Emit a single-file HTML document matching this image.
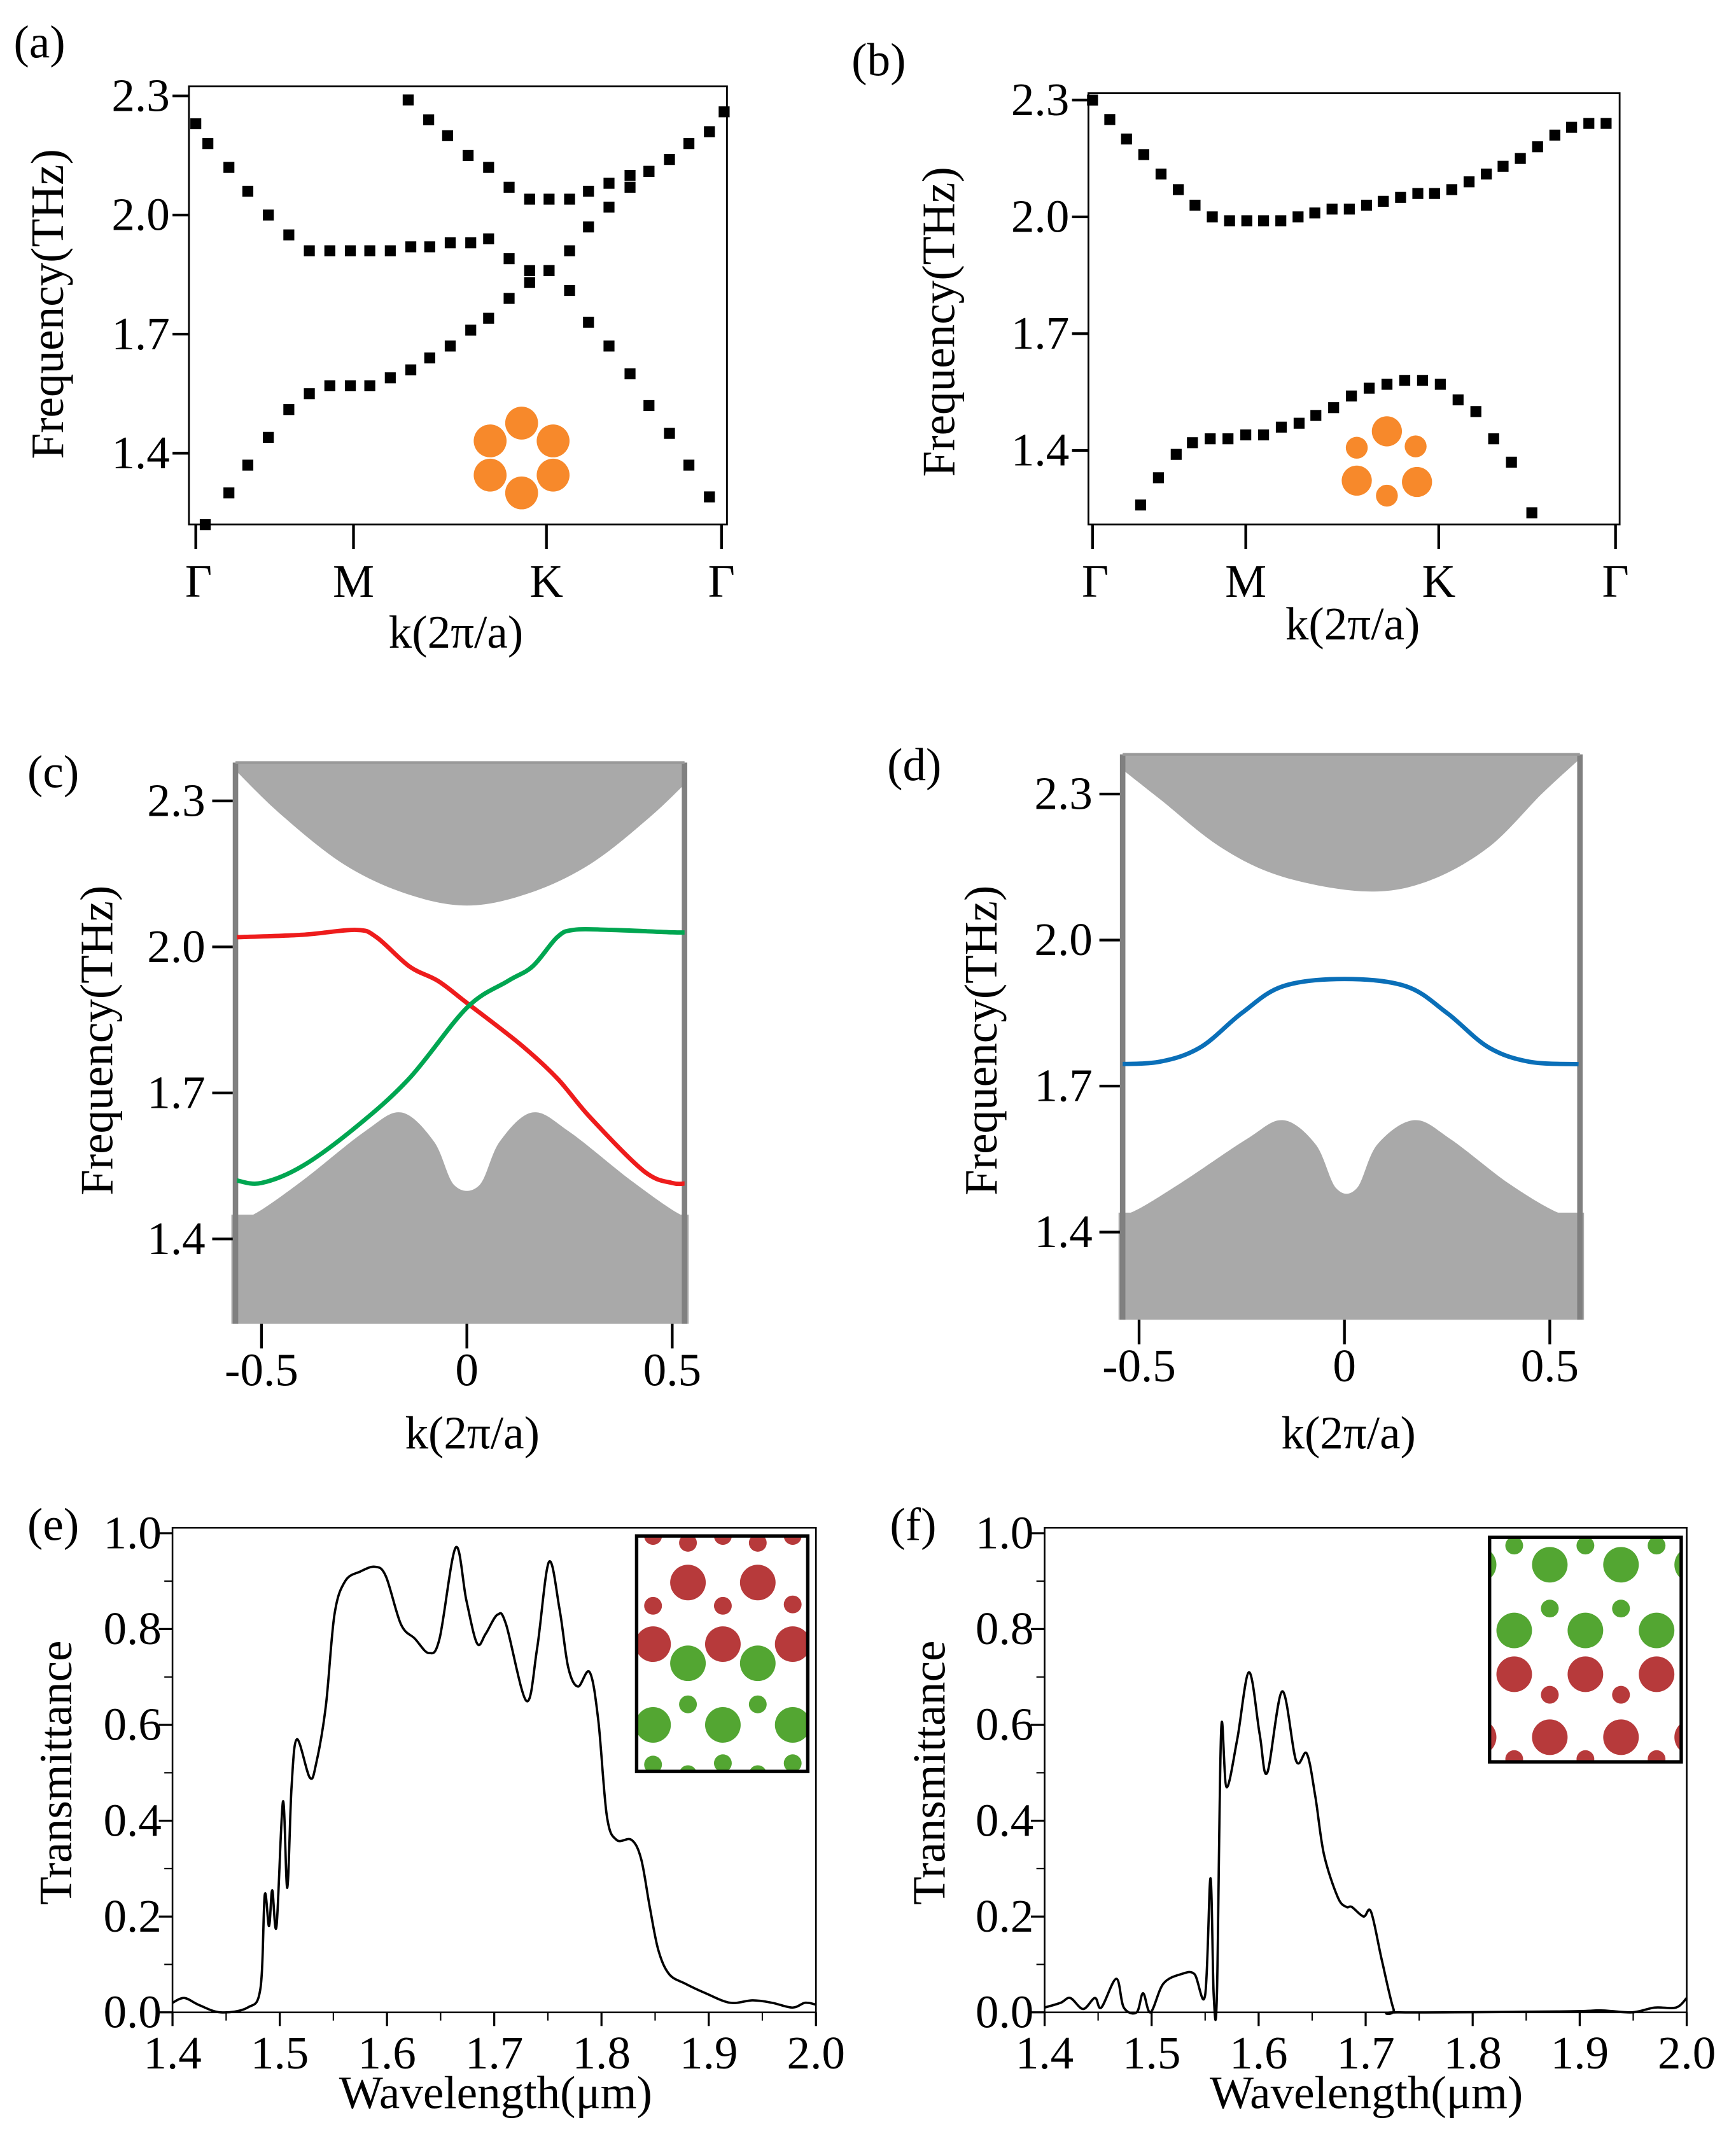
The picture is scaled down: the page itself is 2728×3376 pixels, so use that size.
<!DOCTYPE html>
<html><head><meta charset="utf-8"><style>
html,body{margin:0;padding:0;background:#fff}
svg{display:block}
text{font-family:"Liberation Serif",serif;fill:#000}
</style></head><body>
<svg id="fig" xmlns="http://www.w3.org/2000/svg" width="2728" height="3376" viewBox="0 0 1268 1569"></svg>
<script>
// ---------- data ----------
const aBandAk=[0.018,0.063,0.099,0.138,0.177,0.216,0.255,0.294,0.331,0.370,0.409,0.445,0.484,0.523,0.557,0.596,0.635,0.672,0.711,0.747,0.786,0.826,0.862,0.901,0.938,0.977];
const aBandAf=[1.22,1.30,1.37,1.44,1.51,1.55,1.57,1.57,1.57,1.59,1.61,1.64,1.67,1.71,1.74,1.79,1.83,1.86,1.81,1.73,1.67,1.60,1.52,1.45,1.37,1.29];
const aBandBk=[0.0,0.023,0.063,0.099,0.138,0.177,0.216,0.255,0.294,0.331,0.370,0.409,0.445,0.484,0.523,0.557,0.596,0.635,0.672,0.711,0.747,0.786,0.826,0.862,0.901,0.938,0.977,1.005];
const aBandBf=[2.23,2.18,2.12,2.06,2.00,1.95,1.91,1.91,1.91,1.91,1.91,1.92,1.92,1.93,1.93,1.94,1.89,1.86,1.86,1.91,1.97,2.02,2.07,2.11,2.14,2.18,2.21,2.26];
const aBandCk=[0.404,0.443,0.479,0.518,0.557,0.596,0.635,0.672,0.711,0.747,0.786,0.826,0.862];
const aBandCf=[2.29,2.24,2.20,2.15,2.12,2.07,2.04,2.04,2.04,2.06,2.08,2.10,2.11];
const aTicksK=[0,0.30,0.667,1];
const symLabels=["Γ","M","K","Γ"];
const freqTicks=[2.3,2.0,1.7,1.4];
const bUpperK=[0,0.033,0.065,0.098,0.131,0.164,0.196,0.229,0.262,0.295,0.327,0.360,0.393,0.425,0.458,0.491,0.524,0.556,0.589,0.622,0.654,0.687,0.720,0.753,0.785,0.818,0.851,0.884,0.916,0.949,0.982];
const bUpperF=[2.30,2.25,2.20,2.16,2.11,2.07,2.03,2.00,1.99,1.99,1.99,1.99,2.00,2.01,2.02,2.02,2.03,2.04,2.05,2.06,2.06,2.07,2.09,2.11,2.13,2.15,2.18,2.21,2.23,2.24,2.24];
const bLowerK=[0.092,0.126,0.160,0.191,0.225,0.259,0.293,0.327,0.361,0.395,0.427,0.461,0.495,0.529,0.563,0.597,0.631,0.665,0.699,0.733,0.767,0.801,0.840];
const bLowerF=[1.26,1.33,1.39,1.42,1.43,1.43,1.44,1.44,1.46,1.47,1.49,1.51,1.54,1.56,1.57,1.58,1.58,1.57,1.53,1.50,1.43,1.37,1.24];
const bTicksK=[0,0.293,0.662,1];
const cUpperK=[-0.56,-0.45,-0.3,-0.15,0,0.15,0.3,0.45,0.56];
const cUpperF=[2.36,2.27,2.17,2.11,2.085,2.11,2.17,2.27,2.36];
const cLowerK=[-0.56,-0.52,-0.4,-0.25,-0.16,-0.08,-0.03,0.03,0.08,0.16,0.25,0.4,0.52,0.56];
const cLowerF=[1.45,1.45,1.52,1.62,1.66,1.60,1.51,1.51,1.60,1.66,1.62,1.52,1.45,1.45];
const cRedK=[-0.56,-0.4,-0.27,-0.22,-0.14,-0.07,0,0.13,0.22,0.30,0.43,0.5,0.54];
const cRedF=[2.02,2.025,2.035,2.02,1.96,1.93,1.885,1.80,1.73,1.65,1.54,1.515,1.515];
const cGreenK=[-0.56,-0.5,-0.4,-0.27,-0.14,0,0.1,0.16,0.22,0.26,0.35,0.5,0.54];
const cGreenF=[1.52,1.515,1.55,1.63,1.73,1.875,1.93,1.96,2.02,2.035,2.035,2.03,2.03];
const dUpperK=[-0.57,-0.45,-0.3,-0.15,0.05,0.2,0.35,0.48,0.57];
const dUpperF=[2.37,2.29,2.19,2.13,2.10,2.12,2.19,2.30,2.37];
const dLowerK=[-0.57,-0.52,-0.4,-0.24,-0.15,-0.07,-0.02,0.03,0.08,0.17,0.26,0.4,0.52,0.57];
const dLowerF=[1.44,1.44,1.50,1.59,1.63,1.58,1.49,1.49,1.58,1.63,1.59,1.50,1.44,1.44];
const dBlueK=[-0.57,-0.45,-0.35,-0.25,-0.15,0,0.15,0.25,0.35,0.45,0.57];
const dBlueF=[1.745,1.75,1.78,1.85,1.905,1.92,1.905,1.85,1.78,1.75,1.745];
const kTicks=[-0.5,0,0.5];
const kTickLabels=["-0.5","0","0.5"];
const eLam=[1.40,1.411,1.425,1.445,1.47,1.482,1.486,1.49,1.493,1.497,1.503,1.507,1.511,1.516,1.528,1.534,1.543,1.551,1.561,1.575,1.589,1.599,1.613,1.626,1.639,1.649,1.664,1.674,1.684,1.692,1.703,1.711,1.730,1.740,1.751,1.761,1.769,1.778,1.789,1.797,1.805,1.814,1.828,1.837,1.845,1.853,1.863,1.878,1.897,1.92,1.941,1.959,1.978,1.99,2.0];
const eT=[0.02,0.03,0.015,0.0,0.01,0.05,0.245,0.18,0.255,0.18,0.44,0.26,0.47,0.57,0.49,0.52,0.64,0.83,0.90,0.92,0.93,0.91,0.81,0.78,0.75,0.78,0.97,0.86,0.77,0.79,0.83,0.81,0.65,0.76,0.94,0.84,0.72,0.68,0.71,0.61,0.41,0.36,0.36,0.32,0.22,0.13,0.08,0.06,0.04,0.02,0.025,0.02,0.01,0.02,0.016];
const fLam=[1.40,1.415,1.424,1.436,1.447,1.453,1.467,1.474,1.486,1.492,1.499,1.511,1.528,1.54,1.55,1.555,1.558,1.561,1.565,1.57,1.58,1.591,1.601,1.608,1.622,1.635,1.645,1.653,1.661,1.674,1.682,1.687,1.698,1.705,1.715,1.726,1.732,1.886,1.92,1.949,1.97,1.99,2.0];
const fT=[0.01,0.02,0.03,0.007,0.03,0.01,0.07,0.01,0.0,0.04,0.0,0.06,0.08,0.08,0.036,0.28,0.036,0.036,0.59,0.47,0.57,0.71,0.58,0.50,0.67,0.525,0.54,0.45,0.33,0.24,0.22,0.22,0.20,0.21,0.11,0.007,0.0,0.002,0.004,0.0,0.01,0.01,0.03];
const lamTicks=[1.4,1.5,1.6,1.7,1.8,1.9,2.0];
const lamLabels=["1.4","1.5","1.6","1.7","1.8","1.9","2.0"];
const tTicks=[0,0.2,0.4,0.6,0.8,1.0];
const tLabels=["0.0","0.2","0.4","0.6","0.8","1.0"];

// ---------- helpers ----------
const NS="http://www.w3.org/2000/svg";
const svg=document.getElementById('fig');
const FS=34;
function el(tag,attrs,parent,txt){const e=document.createElementNS(NS,tag);for(const k in attrs)e.setAttribute(k,attrs[k]);if(txt!==undefined)e.textContent=txt;(parent||svg).appendChild(e);return e;}
function grp(name){const g=el('g',{});


return g;}
function lin(d0,d1,p0,p1){return v=>p0+(v-d0)*(p1-p0)/(d1-d0);}
function smooth(pts){let d=`M${pts[0][0]},${pts[0][1]}`;for(let i=0;i<pts.length-1;i++){const p0=pts[Math.max(0,i-1)],p1=pts[i],p2=pts[i+1],p3=pts[Math.min(pts.length-1,i+2)];
const c1=[p1[0]+(p2[0]-p0[0])/6,p1[1]+(p2[1]-p0[1])/6],c2=[p2[0]-(p3[0]-p1[0])/6,p2[1]-(p3[1]-p1[1])/6];d+=`C${c1[0]},${c1[1]} ${c2[0]},${c2[1]} ${p2[0]},${p2[1]}`;}return d;}
function text(g,x,y,s,size,anchor,name,rot){const t=el('text',{x:x,y:y,'font-size':size,'text-anchor':anchor||'middle'},g,s);if(rot)t.setAttribute('transform',`rotate(-90 ${x} ${y})`);


return t;}

// ---------- (a),(b) ----------
function bandPanel(id,box,yTopPx,yBotPx,ticksK,bands,label,labelPos,ylabPos,xlabPos,inset){
  const g=grp('panel-'+id);
  const X=lin(0,1,box.tx0,box.tx1), Y=lin(2.3,1.4,yTopPx,yBotPx);
  el('rect',{x:box.x0,y:box.y0,width:box.x1-box.x0,height:box.y1-box.y0,fill:'none',stroke:'#000','stroke-width':1.3},g);
  freqTicks.forEach(f=>{el('line',{x1:box.x0-12,x2:box.x0,y1:Y(f),y2:Y(f),stroke:'#000','stroke-width':2},g);
    text(g,box.x0-14,Y(f)+11,f.toFixed(1),FS,'end','y-tick-label');});
  ticksK.forEach((k,i)=>{el('line',{x1:X(k),x2:X(k),y1:box.y1,y2:box.y1+18,stroke:'#000','stroke-width':2},g);
    text(g,X(k)+(i==0?2:0),box.y1+53,symLabels[i],FS,'middle','x-tick-label');});
  const cg=el('g',{},g);
  inset.forEach(c=>{const ci=el('circle',{cx:c[0],cy:c[1],r:c[2],fill:'#f7892b'},cg);
    
    });
  bands.forEach(b=>{b[0].forEach((k,i)=>{const r=el('rect',{x:X(k)-4,y:Y(b[1][i])-4,width:8,height:8,fill:'#000'},g);
    
    });});
  text(g,labelPos[0],labelPos[1],label,FS,'start','panel-label');
  text(g,ylabPos[0],ylabPos[1],'Frequency(THz)',FS,'middle','y-axis-title',true);
  text(g,xlabPos[0],xlabPos[1],'k(2π/a)',FS,'middle','x-axis-title');
}
bandPanel('a',{x0:138,x1:531,y0:63,y1:383,tx0:143,tx1:527},70,331,aTicksK,[[aBandAk,aBandAf],[aBandBk,aBandBf],[aBandCk,aBandCf]],'(a)',[10,42],[46,222],[333,473],
  [[381,309,12],[404,322,12],[404,347,12],[381,360,12],[358,347,12],[358,322,12]]);
bandPanel('b',{x0:795,x1:1183,y0:68,y1:383,tx0:798,tx1:1180},73,329,bTicksK,[[bUpperK,bUpperF],[bLowerK,bLowerF]],'(b)',[622,55],[697,235],[988,467],
  [[1013,315,11],[1034,326,8],[991,327,8],[991,351,11],[1035,352,11],[1013,362,8]]);

// ---------- (c),(d) ----------
function projPanel(id,box,yTop,yBot,xZero,xScale,up,low,lines,label,labelPos,ylabPos,xlabPos){
  const g=grp('panel-'+id);
  const X=k=>xZero+k*xScale, Y=lin(2.3,1.4,yTop,yBot);
  const cid='clipbox'+id;
  const cp=el('clipPath',{id:cid},g);el('rect',{x:box.x0,y:box.y0,width:box.x1-box.x0,height:box.y1-box.y0},cp);
  const inner=el('g',{'clip-path':`url(#${cid})`},g);
  const upPts=up[0].map((k,i)=>[X(k),Y(up[1][i])]);
  const ua=el('path',{d:smooth(upPts)+`L${X(up[0][up[0].length-1])},${box.y0}L${X(up[0][0])},${box.y0}Z`,fill:'#a9a9a9'},inner);
  
  
  const lowPts=low[0].map((k,i)=>[X(k),Y(low[1][i])]);
  const la=el('path',{d:smooth(lowPts)+`L${X(low[0][low[0].length-1])},${box.y1}L${X(low[0][0])},${box.y1}Z`,fill:'#a9a9a9'},inner);
  
  
  el('rect',{x:box.x0-3,y:Y(low[1][0]),width:box.x1-box.x0+6,height:box.y1-Y(low[1][0]),fill:'#a9a9a9'},g);
  el('line',{x1:box.x0,x2:box.x0,y1:box.y0,y2:box.y1,stroke:'#808080','stroke-width':4},g);
  el('line',{x1:box.x1,x2:box.x1,y1:box.y0,y2:box.y1,stroke:'#808080','stroke-width':4},g);
  el('line',{x1:box.x0,x2:box.x1,y1:box.y0,y2:box.y0,stroke:'#999','stroke-width':2},g);
  const lg=el('g',{'clip-path':`url(#${cid})`},g);
  lines.forEach(L=>{const p=el('path',{d:smooth(L[0].map((k,i)=>[X(k),Y(L[1][i])])),fill:'none',stroke:L[2],'stroke-width':3.2},lg);
    
    });
  freqTicks.forEach(f=>{el('line',{x1:box.x0-17,x2:box.x0-2,y1:Y(f),y2:Y(f),stroke:'#000','stroke-width':2},g);
    text(g,box.x0-22,Y(f)+11,f.toFixed(1),FS,'end','y-tick-label');});
  kTicks.forEach((k,i)=>{el('line',{x1:X(k),x2:X(k),y1:box.y1,y2:box.y1+18,stroke:'#000','stroke-width':2},g);
    text(g,X(k),box.y1+45,kTickLabels[i],FS,'middle','x-tick-label');});
  text(g,labelPos[0],labelPos[1],label,FS,'start','panel-label');
  text(g,ylabPos[0],ylabPos[1],'Frequency(THz)',FS,'middle','y-axis-title',true);
  text(g,xlabPos[0],xlabPos[1],'k(2π/a)',FS,'middle','x-axis-title');
}
projPanel('c',{x0:172,x1:500,y0:557,y1:967},585,905,341,300,[cUpperK,cUpperF],[cLowerK,cLowerF],
  [[cRedK,cRedF,'#ee1c1c','red-edge-state'],[cGreenK,cGreenF,'#00a651','green-edge-state']],'(c)',[20,575],[82,760],[345,1058]);
projPanel('d',{x0:820,x1:1154,y0:551,y1:964},580,900,982,300,[dUpperK,dUpperF],[dLowerK,dLowerF],
  [[dBlueK,dBlueF,'#0a6fb8','blue-edge-state']],'(d)',[648,570],[728,760],[985,1058]);

// ---------- (e),(f) ----------
function specPanel(id,x0,x1,lam,T,label,labelPos,ylabX,xlabX,inset){
  const g=grp('panel-'+id);
  const y0=1116,y1=1470;
  const X=lin(1.4,2.0,x0,x1), Y=lin(0,1,y1,1120);
  el('rect',{x:x0,y:y0,width:x1-x0,height:y1-y0,fill:'none',stroke:'#000','stroke-width':1.2},g);
  tTicks.forEach((t,i)=>{el('line',{x1:x0-10,x2:x0,y1:Y(t),y2:Y(t),stroke:'#000','stroke-width':1.5},g);
    text(g,x0-8,Y(t)+11,tLabels[i],FS,'end','y-tick-label');
    if(i<tTicks.length-1) el('line',{x1:x0-6,x2:x0,y1:Y(t+0.1),y2:Y(t+0.1),stroke:'#000','stroke-width':1},g);});
  lamTicks.forEach((l,i)=>{el('line',{x1:X(l),x2:X(l),y1:y1,y2:y1+10,stroke:'#000','stroke-width':1.5},g);
    if(i<lamTicks.length-1) el('line',{x1:X(l+0.05),x2:X(l+0.05),y1:y1,y2:y1+6,stroke:'#000','stroke-width':1},g);
    text(g,X(l),y1+41,lamLabels[i],FS,'middle','x-tick-label');});
  const p=el('path',{d:smooth(lam.map((l,i)=>[X(l),Y(T[i])])),fill:'none',stroke:'#000','stroke-width':1.7,'stroke-linejoin':'round'},g);
  
  
  const ig=el('g',{},g);
  
  
  const cid='clip'+id;
  const cp=el('clipPath',{id:cid},ig);el('rect',{x:inset.x,y:inset.y,width:inset.w,height:inset.h},cp);
  el('rect',{x:inset.x,y:inset.y,width:inset.w,height:inset.h,fill:'#fff'},ig);
  const cc=el('g',{'clip-path':`url(#${cid})`},ig);
  inset.c.forEach(c=>el('circle',{cx:c[0],cy:c[1],r:c[2],fill:c[3]=='r'?'#b73a3b':'#53a632'},cc));
  el('rect',{x:inset.x,y:inset.y,width:inset.w,height:inset.h,fill:'none',stroke:'#000','stroke-width':2.5},ig);
  text(g,labelPos[0],labelPos[1],label,FS,'start','panel-label');
  text(g,ylabX,1295,'Transmittance',FS,'middle','y-axis-title',true);
  text(g,xlabX,1540,'Wavelength(μm)',FS,'middle','x-axis-title');
}
const B=13,S=6.5;
specPanel('e',126,596,eLam,eT,'(e)',[20,1125],52,362,{x:465,y:1122,w:125,h:172,c:[
 [477,1122,S,'r'],[502.5,1127,S,'r'],[528,1122,S,'r'],[553.5,1127,S,'r'],[579,1122,S,'r'],
 [502.5,1156,B,'r'],[553.5,1156,B,'r'],[477,1173,S,'r'],[528,1173,S,'r'],[579,1172,S,'r'],
 [477,1201,B,'r'],[528,1201,B,'r'],[579,1201,B,'r'],
 [502.5,1215,B,'g'],[553.5,1215,B,'g'],[502.5,1245,S,'g'],[553.5,1245,S,'g'],
 [477,1260,B,'g'],[528,1260,B,'g'],[579,1260,B,'g'],
 [477,1289,S,'g'],[528,1288,S,'g'],[579,1288,S,'g'],[502.5,1296,S,'g'],[553.5,1296,S,'g']]});
specPanel('f',763,1232,fLam,fT,'(f)',[650,1125],690,998,{x:1088,y:1123,w:140,h:164,c:[
 [1106,1129,S,'g'],[1158,1129,S,'g'],[1210,1129,S,'g'],
 [1080,1143,B,'g'],[1132,1143,B,'g'],[1184,1143,B,'g'],[1236,1143,B,'g'],
 [1132,1175,S,'g'],[1184,1175,S,'g'],
 [1106,1191,B,'g'],[1158,1191,B,'g'],[1210,1191,B,'g'],
 [1106,1223,B,'r'],[1158,1223,B,'r'],[1210,1223,B,'r'],
 [1132,1238,S,'r'],[1184,1238,S,'r'],
 [1080,1269,B,'r'],[1132,1269,B,'r'],[1184,1269,B,'r'],[1236,1269,B,'r'],
 [1106,1285,S,'r'],[1158,1285,S,'r'],[1210,1285,S,'r']]});
</script>
</body></html>
